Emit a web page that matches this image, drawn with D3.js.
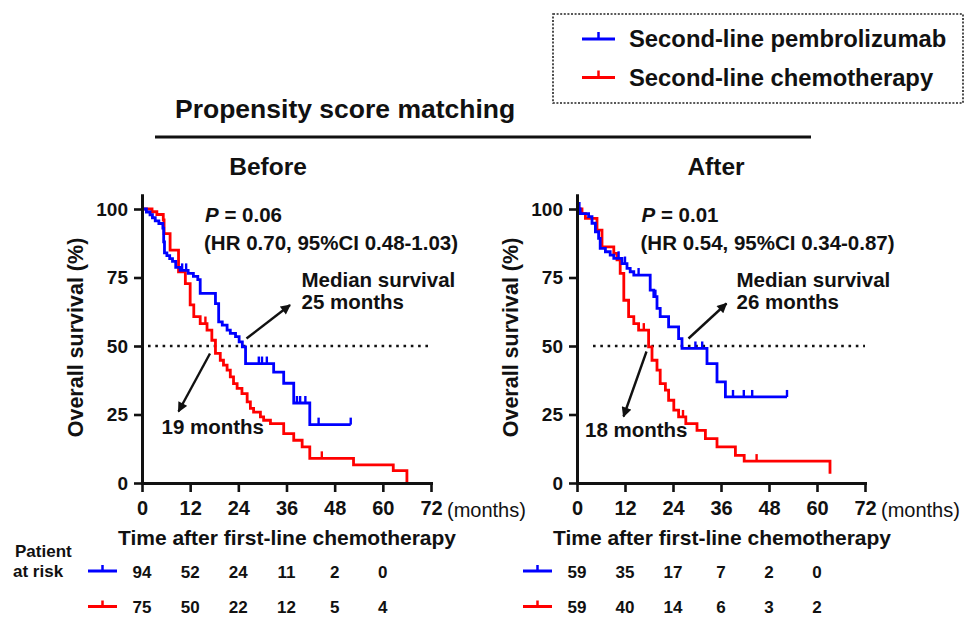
<!DOCTYPE html>
<html>
<head>
<meta charset="utf-8">
<script src="https://cdn.jsdelivr.net/npm/d3@7"></script>
<style>
  body { margin: 0; background: #fff; }
  svg { display: block; font-family: "Liberation Sans", Arial, sans-serif; font-weight: bold; }
</style>
</head>
<body>
<svg id="chart" width="972" height="618"></svg>
<script>
// ---- data ----
const monthTicks = [0, 12, 24, 36, 48, 60, 72];
const riskMonths = [0, 12, 24, 36, 48, 60];
const survTicks = [0, 25, 50, 75, 100];

// [time (months), survival (%) after the drop]
const beforePembro = [[0,100],[1.1,98.9],[2,97.9],[2.6,96.8],[3.3,95.7],[4.2,94.7],[5.2,93],
  [5.4,88],[5.6,84],[6.2,83],[6.9,81.9],[7.6,80.9],[8.4,78.7],[9.5,77.6],[11.5,76.5],[12.8,75.4],
  [13.9,74.2],[14.5,69.2],[18.3,65.5],[19.1,58.8],[20,57.6],[21.2,55.8],[22,54.6],[23.3,53.4],
  [24.2,51.5],[25,49.7],[25.8,43.6],[32.8,40.5],[35.3,36.4],[37.8,29.2],[41.8,21.3]];
const beforePembroCensor = [10, 11, 29.1, 29.9, 31.1, 38.6, 39.4, 40.7, 44, 52];
const beforePembroEnd = 52;

const beforeChemo = [[0,100],[2.5,99],[3.7,98],[5.3,96],[5.5,91],[7,85],[9.1,77.1],[10.8,72.8],[12,65],
  [12.9,60.7],[14.5,58.2],[16.2,55.8],[17.4,52.1],[18.3,47.3],[19.5,44.8],[20.3,43],[21.2,41.2],
  [22,38.7],[22.8,36.3],[23.7,34.5],[24.9,32.6],[26.2,29.6],[27,27.2],[27.8,25.9],[29.5,24.1],
  [30.3,22.9],[32,21.7],[35.3,18],[37.8,15.6],[39.9,13.2],[41.8,9],[52.7,6.6],[62.6,4.5],[66,0]];
const beforeChemoCensor = [15.8, 44.8];
const beforeChemoEnd = 66;

const afterPembro = [[0,100],[0.8,98.3],[2.9,97.2],[3.75,94.8],[4.6,91.7],[5.4,89.3],[5.8,85.6],
  [7.1,84.4],[8.3,83.2],[9.2,82],[11.25,80.1],[12.5,78.3],[13.3,77.1],[14.2,75.9],[18.3,70.4],
  [19.2,68],[20,63.7],[20.8,60.7],[22.9,57],[25.4,52.7],[26.25,49.1],[32.5,43.6],[35,36.9],[37.1,31.4]];
const afterPembroCensor = [0.6, 10.4, 12, 15.4, 19.6, 29.6, 31.3, 39, 41.7, 43.8, 52.5];
const afterPembroEnd = 52.5;

const afterChemo = [[0,100],[1.25,98.3],[2.1,96.6],[5,92.3],[6.25,86.2],[9.2,83.8],[10,81.4],
  [10.8,76.5],[11.7,66.7],[12.9,60.7],[14.2,58.2],[15.4,55.8],[17.9,49.7],[18.75,44.8],[20,41.2],
  [20.8,36.3],[22.1,33.9],[22.9,30.2],[24.2,26.6],[25.4,24.1],[27.2,21.7],[30,19.2],[32.1,16.2],
  [35,13.2],[39.6,10.1],[41.8,8],[63.25,3.4]];
const afterChemoCensor = [16.7, 26.5, 44.9];
const afterChemoEnd = 63.25;

const riskBeforePembro = [94, 52, 24, 11, 2, 0];
const riskBeforeChemo = [75, 50, 22, 12, 5, 4];
const riskAfterPembro = [59, 35, 17, 7, 2, 0];
const riskAfterChemo = [59, 40, 14, 6, 3, 2];

const seriesNames = ['Second-line pembrolizumab', 'Second-line chemotherapy'];
const seriesColors = ['#0000ff', '#ff0000'];

// ---- drawing ----
const svg = d3.select('#chart');

svg.append('defs').append('marker')
  .attr('id', 'arrow')
  .attr('viewBox', '0 0 10 10')
  .attr('refX', 9).attr('refY', 5)
  .attr('markerWidth', 11).attr('markerHeight', 10)
  .attr('markerUnits', 'userSpaceOnUse')
  .attr('orient', 'auto')
  .append('path').attr('d', 'M0,0L10,5L0,10z').attr('fill', '#111');

// legend
svg.append('rect')
  .attr('x', 553).attr('y', 14).attr('width', 410).attr('height', 89)
  .attr('fill', 'none').attr('stroke', '#222').attr('stroke-width', 1.6)
  .attr('stroke-dasharray', '2,1.6');

seriesNames.forEach((name, i) => {
  const ly = 39 + i * 38.5;
  svg.append('line').attr('x1', 582).attr('x2', 615).attr('y1', ly).attr('y2', ly)
    .attr('stroke', seriesColors[i]).attr('stroke-width', 3);
  svg.append('line').attr('x1', 598.5).attr('x2', 598.5).attr('y1', ly).attr('y2', ly - 7)
    .attr('stroke', seriesColors[i]).attr('stroke-width', 2.5);
  svg.append('text').attr('x', 629).attr('y', ly + 8)
    .attr('font-size', 23.8).attr('fill', '#111').text(name);
});

// headings
svg.append('text').attr('x', 175).attr('y', 118).attr('font-size', 26.5).attr('fill', '#111')
  .text('Propensity score matching');
svg.append('line').attr('x1', 155).attr('x2', 811).attr('y1', 137).attr('y2', 137)
  .attr('stroke', '#111').attr('stroke-width', 3);

svg.append('text').attr('x', 15).attr('y', 556.5).attr('font-size', 17).attr('fill', '#111').text('Patient');
svg.append('text').attr('x', 13).attr('y', 577).attr('font-size', 17).attr('fill', '#111').text('at risk');

function stepValue(steps, t) {
  let s = steps[0][1];
  steps.forEach(d => { if (d[0] <= t) s = d[1]; });
  return s;
}

function drawPanel(p) {
  const x = d3.scaleLinear().domain([0, 72]).range([p.left, p.right]);
  const y = d3.scaleLinear().domain([0, 105]).range([483, 483 - 105 * 2.74]);
  const g = svg.append('g');

  g.append('text').attr('x', p.titleX).attr('y', 175)
    .attr('text-anchor', 'middle').attr('font-size', 24.5).attr('fill', '#111').text(p.title);

  // median reference line
  g.append('line').attr('x1', p.left + p.dotStart).attr('x2', p.right)
    .attr('y1', y(50)).attr('y2', y(50))
    .attr('stroke', '#111').attr('stroke-width', 2.6).attr('stroke-dasharray', '2.6,4.7');

  const line = d3.line().x(d => x(d[0])).y(d => y(d[1])).curve(d3.curveStepAfter);

  p.curves.forEach(c => {
    const pts = c.steps.concat([[c.end, c.steps[c.steps.length - 1][1]]]);
    g.append('path').datum(pts).attr('d', line)
      .attr('fill', 'none').attr('stroke', c.color).attr('stroke-width', 2.8);
    g.selectAll(null).data(c.censor).enter().append('line')
      .attr('x1', d => x(d)).attr('x2', d => x(d))
      .attr('y1', d => y(stepValue(c.steps, d)))
      .attr('y2', d => y(stepValue(c.steps, d)) - 7)
      .attr('stroke', c.color).attr('stroke-width', 2.4);
  });

  // axes
  const yAxis = g.append('g').attr('transform', `translate(${p.left},0)`)
    .call(d3.axisLeft(y).tickValues(survTicks).tickSize(8).tickSizeOuter(0).tickPadding(6));
  const xAxis = g.append('g').attr('transform', 'translate(0,483)')
    .call(d3.axisBottom(x).tickValues(monthTicks).tickSize(9).tickSizeOuter(0).tickPadding(8.8));
  [yAxis, xAxis].forEach(a => {
    a.select('.domain').attr('stroke', '#111').attr('stroke-width', 3).attr('stroke-linecap', 'square');
    a.selectAll('.tick line').attr('stroke', '#111').attr('stroke-width', 2.6);
    a.selectAll('.tick text').attr('fill', '#111');
  });
  yAxis.attr('font-size', 19).attr('font-family', null);
  xAxis.attr('font-size', 20).attr('font-family', null);

  g.append('text').attr('x', p.right + 16).attr('y', 516.5)
    .attr('font-size', 20).attr('font-weight', 'normal').attr('fill', '#111').text('(months)');

  g.append('text').attr('x', p.left + 145).attr('y', 545).attr('text-anchor', 'middle')
    .attr('font-size', 21).attr('fill', '#111').text('Time after first-line chemotherapy');

  g.append('text')
    .attr('transform', `translate(${p.left - 59},337.5) rotate(-90)`)
    .attr('text-anchor', 'middle').attr('font-size', 21.5).attr('fill', '#111')
    .text('Overall survival (%)');

  // statistics
  const pt = g.append('text').attr('x', p.left + p.statDx).attr('y', 221.5)
    .attr('font-size', 20.5).attr('fill', '#111');
  pt.append('tspan').attr('font-style', 'italic').text('P');
  pt.append('tspan').text(' = ' + p.pValue);
  g.append('text').attr('x', p.left + p.statDx - 1).attr('y', 250)
    .attr('font-size', 20.5).attr('fill', '#111').text(p.hrText);

  // median annotations
  g.append('text').attr('x', p.medX).attr('y', 286.5).attr('font-size', 20.5).attr('fill', '#111')
    .text('Median survival');
  g.append('text').attr('x', p.medX).attr('y', 308.5).attr('font-size', 20.5).attr('fill', '#111')
    .text(p.medPembro + ' months');
  g.append('text').attr('x', p.chemoX).attr('y', p.chemoY).attr('font-size', 20.5).attr('fill', '#111')
    .text(p.medChemo + ' months');
  p.arrows.forEach(a => {
    g.append('line').attr('x1', a[0]).attr('y1', a[1]).attr('x2', a[2]).attr('y2', a[3])
      .attr('stroke', '#111').attr('stroke-width', 2.4).attr('marker-end', 'url(#arrow)');
  });

  // numbers at risk
  p.risk.forEach((row, i) => {
    const ry = 571 + i * 35.5;
    g.append('line').attr('x1', p.left - 54).attr('x2', p.left - 25).attr('y1', ry).attr('y2', ry)
      .attr('stroke', seriesColors[i]).attr('stroke-width', 3);
    g.append('line').attr('x1', p.left - 39.5).attr('x2', p.left - 39.5).attr('y1', ry).attr('y2', ry - 6)
      .attr('stroke', seriesColors[i]).attr('stroke-width', 2.5);
    g.selectAll(null).data(row).enter().append('text')
      .attr('x', (d, j) => x(riskMonths[j])).attr('y', ry + 6.5)
      .attr('text-anchor', 'middle').attr('font-size', 17).attr('fill', '#111')
      .text(d => d);
  });
}

drawPanel({
  title: 'Before', titleX: 268, left: 142, right: 431, dotStart: 6, statDx: 63,
  pValue: '0.06', hrText: '(HR 0.70, 95%CI 0.48-1.03)',
  medPembro: 25, medChemo: 19, medX: 301.5, chemoX: 161.5, chemoY: 433.5,
  arrows: [[246.5, 338.5, 290, 305], [210, 353.5, 178.5, 411.5]],
  curves: [
    { steps: beforeChemo, censor: beforeChemoCensor, end: beforeChemoEnd, color: seriesColors[1] },
    { steps: beforePembro, censor: beforePembroCensor, end: beforePembroEnd, color: seriesColors[0] }
  ],
  risk: [riskBeforePembro, riskBeforeChemo]
});

drawPanel({
  title: 'After', titleX: 716, left: 577, right: 865, dotStart: 16, statDx: 64.5,
  pValue: '0.01', hrText: '(HR 0.54, 95%CI 0.34-0.87)',
  medPembro: 26, medChemo: 18, medX: 736.5, chemoX: 585, chemoY: 436.5,
  arrows: [[688.5, 338.5, 726.5, 303.5], [646.5, 351.5, 623.5, 416.5]],
  curves: [
    { steps: afterChemo, censor: afterChemoCensor, end: afterChemoEnd, color: seriesColors[1] },
    { steps: afterPembro, censor: afterPembroCensor, end: afterPembroEnd, color: seriesColors[0] }
  ],
  risk: [riskAfterPembro, riskAfterChemo]
});
</script>
</body>
</html>
